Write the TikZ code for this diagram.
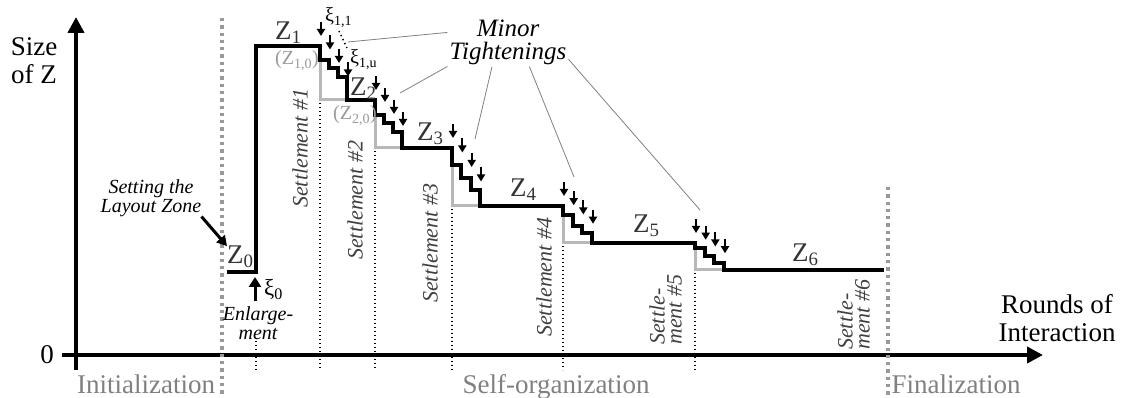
\documentclass[tikz,border=0pt]{standalone}
\usepackage{fontspec}
\setmainfont{Liberation Serif}
\usetikzlibrary{arrows.meta}

% x start/x end/level/three steps/new level of every tightening
\newcommand{\stairlist}{320/347/46/60/68/77/100, 375/402/100/115/123/132/148, 452/480/148/165/178/190/206, 563/592/206/215/226/233/243, 695/724/243/248/256/263/270}

\tikzset{
  axis/.style={line width=4pt, -{Triangle[length=16pt,width=16pt]}},
  zone/.style={line width=4pt},
  zone0/.style={line width=3pt, draw=black!28},
  phase/.style={line width=3.3pt, draw=black!40, dash pattern=on 3.3pt off 4pt},
  settleline/.style={line width=1.3pt, dash pattern=on 1.3pt off 2.7pt},
  tighten/.style={line width=2pt, -{Triangle[length=7pt,width=8pt]}},
  pointer/.style={line width=3pt, -{Triangle[length=10pt,width=11pt]}},
  leader/.style={draw=black!50, line width=0.8pt},
  big/.style={inner sep=0pt, font=\fontsize{27}{28}\selectfont},
  zlabel/.style={big, anchor=base west, text=black!80},
  zlabel0/.style={inner sep=0pt, anchor=base west, text=black!40, font=\fontsize{20}{20}\selectfont},
  xilabel/.style={inner sep=0pt, anchor=base west, font=\fontsize{20}{20}\selectfont},
  phaselabel/.style={big, anchor=base, text=black!50},
  settlement/.style={inner sep=0pt, rotate=90, anchor=south west, align=left, text=black!75, font=\fontsize{22}{17}\selectfont\itshape},
  note/.style={inner sep=0pt, align=center, font=\fontsize{20}{18.5}\selectfont\itshape},
}

\begin{document}
\begin{tikzpicture}[x=1pt,y=-1pt]
\useasboundingbox (0,0) rectangle (1128,398);

% axes
\draw[axis] (76,370) -- (76,17);
\draw[axis] (62,355) -- (1043,355);
\node[big, anchor=east] (zero) at (54,355) {0};
\node[big, align=center] (ylabel) at (34,61) {Size\\of Z};
\node[big, align=center] (xlabel) at (1057,318) {Rounds of\\Interaction};

% phases
\draw[phase] (222,18) -- (222,396);
\draw[phase] (888,187) -- (888,396);
\node[phaselabel] (init) at (146,393) {Initialization};
\node[phaselabel] (selforg) at (556,393) {Self-organization};
\node[phaselabel] (final) at (956,393) {Finalization};

% settled zones (grey) and where each settlement happens
\foreach \xs/\xe/\ya/\yb/\yc/\yd/\ye in \stairlist {
  \draw[zone0] (\xs,\yb) -- (\xs,\ye) -- (\xe,\ye);
  \draw[settleline] (\xs,\ye+3) -- (\xs,370);
}
\draw[settleline] (256,341) -- (256,370);

% size of the zone
\draw[zone] (227,272) -- (256,272) -- (256,46)
  \foreach \xs/\xe/\ya/\yb/\yc/\yd/\ye in \stairlist {
    -- (\xs,\ya) -- (\xs,\yb) -- ({\xs+(\xe-\xs)/3},\yb) -- ({\xs+(\xe-\xs)/3},\yc)
    -- ({\xs+2*(\xe-\xs)/3},\yc) -- ({\xs+2*(\xe-\xs)/3},\yd) -- (\xe,\yd) -- (\xe,\ye)
  }
  -- (884,270);

% minor tightenings
\foreach \xs/\xe/\ya/\yb/\yc/\yd/\ye in \stairlist
  \foreach \i in {0,...,3}
    \draw[tighten] ({\xs+1+\i*(\xe-\xs)/3},{\ya-24+\i*(\ye-\ya)/4}) -- ++(0,14);

\node[zlabel] (z0) at (227,264) {Z\textsubscript{0}};
\node[zlabel] (z1) at (275,40) {Z\textsubscript{1}};
\node[zlabel] (z2) at (350,96) {Z\textsubscript{2}};
\node[zlabel] (z3) at (417,141) {Z\textsubscript{3}};
\node[zlabel] (z4) at (510,197) {Z\textsubscript{4}};
\node[zlabel] (z5) at (633,233) {Z\textsubscript{5}};
\node[zlabel] (z6) at (792,262) {Z\textsubscript{6}};
\node[zlabel0] (z10) at (275,65) {(Z\textsubscript{1,0})};
\node[zlabel0] (z20) at (333,120) {(Z\textsubscript{2,0})};

\node[xilabel] (xi11) at (325,22) {ξ\textsubscript{1,1}};
\node[xilabel] (xi1u) at (350,64) {ξ\textsubscript{1,u}};
\draw[line width=1.4pt, dash pattern=on 1.4pt off 3pt] (339,31) -- (347,48);

\node[align=center, inner sep=2pt, font=\fontsize{25}{23}\selectfont\itshape] (minor) at (508,42) {Minor\\Tightenings};
\coordinate (t1) at (348,42);
\coordinate (t2) at (400,93);
\coordinate (t3) at (475,139);
\coordinate (t4) at (574,177);
\coordinate (t5) at (700,210);
\foreach \a/\t in {171/t1, 202/t2, 237/t3, 311/t4, 344/t5}
  \draw[leader] (minor.\a) -- (\t);

% initialization and enlargement
\node[note] (layout) at (151,198) {Setting the\\Layout Zone};
\draw[pointer] (layout.south east) -- (z0.north west);
\draw[line width=3pt, -{Triangle[length=10pt,width=12pt]}] (255,301) -- (255,277);
\node[xilabel, font=\fontsize{23}{23}\selectfont] (xi0) at (264,296) {ξ\textsubscript{0}};
\node[note] (enlarge) at (258,323) {Enlarge-\\ment};

% settlements
\foreach \x/\y/\n in {308/208/1, 363/260/2, 438/303/3, 552/337/4}
  \node[settlement] (set\n) at (\x,\y) {Settlement \#\n};
\node[settlement] (set5) at (682,345) {Settle-\\ment \#5};
\node[settlement] (set6) at (870,350) {Settle-\\ment \#6};

\end{tikzpicture}
\end{document}
